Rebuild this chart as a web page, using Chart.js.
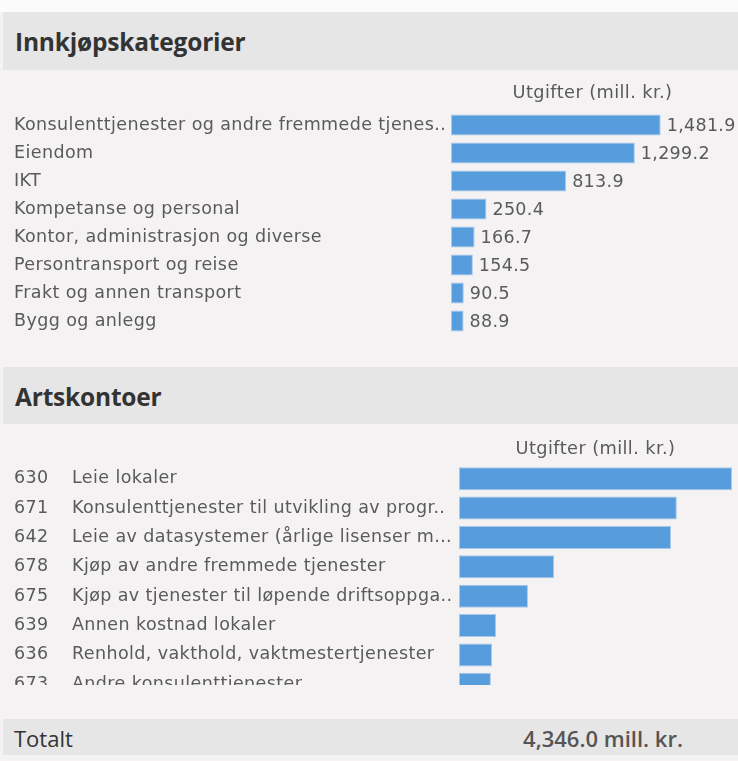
<!DOCTYPE html>
<html>
<head>
<meta charset="utf-8">
<script src="https://cdn.jsdelivr.net/npm/chart.js@4/dist/chart.umd.min.js"></script>
<style>
  html, body { margin: 0; padding: 0; }
  body { width: 738px; height: 761px; background: #f4f2f3; position: relative; overflow: hidden; font-family: "Open Sans", sans-serif; }
  .topstrip { position: absolute; left: 0; top: 0; width: 738px; height: 12px; background: #fbfbfb; }
  .hdr { position: absolute; left: 3px; width: 735px; background: #e6e6e6; color: #333; font-weight: 700; font-size: 24.5px; box-sizing: border-box; padding-left: 12px; letter-spacing: -0.2px; }
  #h1 { top: 12px; height: 58px; line-height: 60px; }
  #h2 { top: 367px; height: 57px; line-height: 60px; }
  #c1 { position: absolute; left: 0; top: 70px; }
  #p2clip { position: absolute; left: 0; top: 424px; width: 738px; height: 261px; overflow: hidden; }
  #c2 { position: absolute; left: 0; top: 0; }
  #tot { position: absolute; left: 3px; top: 719px; width: 735px; height: 36px; background: #e6e6e6; }
  #totLabel { position: absolute; left: 11px; top: 0; line-height: 38px; font-size: 22px; color: #333; }
  #totValue { position: absolute; right: 55px; top: 0; line-height: 38px; font-size: 22px; font-weight: 600; color: #555; }
</style>
</head>
<body>
<div class="topstrip"></div>
<div class="hdr" id="h1">Innkjøpskategorier</div>
<canvas id="c1" width="738" height="295"></canvas>
<div class="hdr" id="h2">Artskontoer</div>
<div id="p2clip"><canvas id="c2" width="738" height="275"></canvas></div>
<div id="tot"><span id="totLabel">Totalt</span><span id="totValue"></span></div>
<script>
// ---- data ----
const categoryLabels = [
  "Konsulenttjenester og andre fremmede tjenes..",
  "Eiendom",
  "IKT",
  "Kompetanse og personal",
  "Kontor, administrasjon og diverse",
  "Persontransport og reise",
  "Frakt og annen transport",
  "Bygg og anlegg"
];
const categoryValues = [1481.9, 1299.2, 813.9, 250.4, 166.7, 154.5, 90.5, 88.9];

const accountCodes = ["630", "671", "642", "678", "675", "639", "636", "673"];
const accountNames = [
  "Leie lokaler",
  "Konsulenttjenester til utvikling av progr..",
  "Leie av datasystemer (årlige lisenser m...",
  "Kjøp av andre fremmede tjenester",
  "Kjøp av tjenester til løpende driftsoppga..",
  "Annen kostnad lokaler",
  "Renhold, vakthold, vaktmestertjenester",
  "Andre konsulenttjenester"
];
const accountValues = [950, 758, 738, 331, 240, 129, 115, 111];

const axisTitle = "Utgifter (mill. kr.)";
const unitSuffix = " mill. kr.";

// ---- styling helpers ----
const FONT = '"DejaVu Sans", "Open Sans", sans-serif';
const TEXT = '#5a5a5a';
const BAR = '#579cdd';
const BAR_EDGE = 'rgba(165,198,232,0.95)';
const fmt = v => v.toLocaleString('en-US', { minimumFractionDigits: 1, maximumFractionDigits: 1 });

const mctx = document.createElement('canvas').getContext('2d');
function textW(text, size, ls) {
  mctx.font = size + 'px ' + FONT;
  mctx.letterSpacing = (ls || 0) + 'px';
  return mctx.measureText(text).width;
}
const LBL = 17.5;
// letter spacing so that the label column has the reference's width
const refLabel = categoryLabels[4];
const lblLS = Math.max(-0.5, Math.min(1, (308 - textW(refLabel, LBL)) / refLabel.length));
// axis title size so "Utgifter (mill. kr.)" spans ~160px
const titleSize = Math.max(15, Math.min(21, (160 - axisTitle.length * lblLS) / (textW(axisTitle, 100) / 100)));
// value-label spacing so "1,481.9" spans ~69px
const refVal = fmt(categoryValues[0]);
const valLS = Math.max(-0.5, Math.min(1.5, (69 - textW(refVal, LBL)) / refVal.length));

const total = categoryValues.reduce((a, b) => a + b, 0);
document.getElementById('totValue').textContent = fmt(total) + unitSuffix;

const spacing = {
  id: 'spacing',
  beforeDraw(chart) { chart.ctx.letterSpacing = lblLS + 'px'; }
};

const valueLabels = {
  id: 'valueLabels',
  afterDatasetsDraw(chart) {
    const ctx = chart.ctx;
    const meta = chart.getDatasetMeta(0);
    const data = chart.data.datasets[0].data;
    ctx.save();
    ctx.font = LBL + 'px ' + FONT;
    ctx.letterSpacing = valLS + 'px';
    ctx.fillStyle = TEXT;
    ctx.textBaseline = 'middle';
    ctx.textAlign = 'left';
    meta.data.forEach((bar, i) => {
      ctx.fillText(fmt(data[i]), bar.x + 6, bar.y + 1);
    });
    ctx.restore();
  }
};

Chart.defaults.font.family = FONT;
Chart.defaults.color = TEXT;

const common = {
  indexAxis: 'y',
  animation: false,
  responsive: false,
  events: [],
  plugins: { legend: { display: false }, tooltip: { enabled: false } }
};
function noPad(s, w) { s.width = w; s.paddingTop = 0; s.paddingBottom = 0; }

new Chart(document.getElementById('c1'), {
  type: 'bar',
  data: {
    labels: categoryLabels,
    datasets: [{
      data: categoryValues,
      backgroundColor: BAR,
      borderColor: BAR_EDGE,
      borderWidth: 1,
      borderSkipped: false,
      categoryPercentage: 1,
      barPercentage: 0.75
    }]
  },
  options: Object.assign({}, common, {
    layout: { padding: { left: 14, right: 4, top: 0, bottom: 30 } },
    scales: {
      x: {
        position: 'top', min: 0, max: 2000,
        grid: { display: false }, border: { display: false },
        ticks: { display: false },
        title: { display: true, text: axisTitle, color: TEXT, font: { size: titleSize }, padding: { top: 13, bottom: 0 } },
        afterFit(s) { s.height = 41; }
      },
      y: {
        grid: { display: false }, border: { display: false },
        ticks: { crossAlign: 'far', color: TEXT, font: { size: LBL }, padding: 0, autoSkip: false },
        afterFit(s) { noPad(s, 437); }
      }
    }
  }),
  plugins: [spacing, valueLabels]
});

new Chart(document.getElementById('c2'), {
  type: 'bar',
  data: {
    labels: accountNames,
    datasets: [{
      data: accountValues,
      backgroundColor: BAR,
      borderColor: BAR_EDGE,
      borderWidth: 1,
      borderSkipped: false,
      categoryPercentage: 1,
      barPercentage: 0.78
    }]
  },
  options: Object.assign({}, common, {
    layout: { padding: { left: 14, right: 6, top: 0, bottom: 0 } },
    scales: {
      x: {
        position: 'top', min: 0, max: Math.max(...accountValues),
        grid: { display: false }, border: { display: false },
        ticks: { display: false },
        title: { display: true, text: axisTitle, color: TEXT, font: { size: titleSize }, padding: { top: 15, bottom: 0 } },
        afterFit(s) { s.height = 40; }
      },
      y: {
        position: 'left', weight: 0,
        grid: { display: false }, border: { display: false },
        ticks: { crossAlign: 'far', color: TEXT, font: { size: LBL }, padding: 0, autoSkip: false },
        afterFit(s) { noPad(s, 387); }
      },
      yCode: {
        type: 'category', labels: accountCodes, position: 'left', weight: 1,
        grid: { display: false }, border: { display: false },
        ticks: { crossAlign: 'far', color: TEXT, font: { size: LBL }, padding: 0, autoSkip: false },
        afterFit(s) { noPad(s, 58); }
      }
    }
  }),
  plugins: [spacing]
});
</script>
</body>
</html>
